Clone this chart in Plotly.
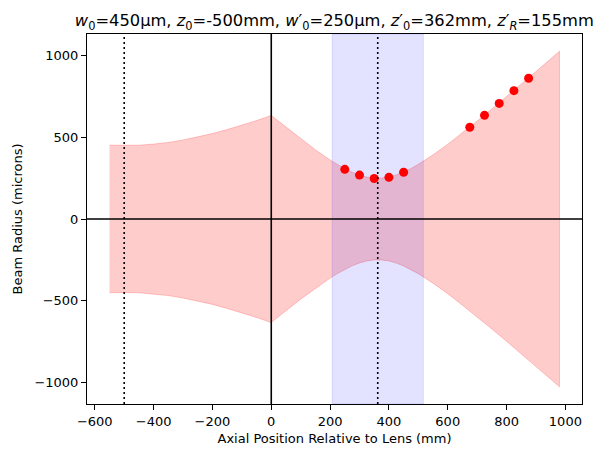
import plotly.graph_objects as go

# Beam envelope (z in mm, radius in microns)
z_env = [-550, -500, -450, -400, -350, -300, -250, -200, -150, -100, -50, 0,
         50, 100, 150, 200, 225, 250, 275, 300, 325, 350, 362, 375, 400, 425,
         450, 475, 500, 550, 600, 650, 700, 750, 800, 850, 900, 950, 980]
w_env = [452, 450, 452, 459, 469, 484, 502, 523, 548, 574, 603, 634,
         562, 491, 424, 362, 334, 308, 287, 269, 257, 251, 250, 251, 257, 270,
         288, 309, 335, 393, 458, 528, 600, 674, 749, 826, 903, 981, 1028]

# Measured beam radii
meas_z = [250, 300, 350, 400, 450, 675, 725, 775, 825, 875]
meas_w = [304, 269, 248, 255, 286, 562, 635, 708, 786, 862]

# Markers
z0_input = -500
z0_output = 362
zR_output = 155

x_ticks = [-600, -400, -200, 0, 200, 400, 600, 800, 1000]
y_ticks = [-1000, -500, 0, 500, 1000]
x_range = [-626.5, 1056.5]
y_range = [-1133, 1133]

poly_x = z_env + z_env[::-1]
poly_y = w_env + [-w for w in w_env[::-1]]

fig = go.Figure()
fig.add_trace(go.Scatter(
    x=poly_x, y=poly_y, mode="lines", fill="toself",
    fillcolor="rgba(255,0,0,0.2)",
    line=dict(color="rgba(255,0,0,0.2)", width=1),
    hoverinfo="skip", showlegend=False))

# Rayleigh range band (between the envelope and the measured points)
b0, b1 = z0_output - zR_output, z0_output + zR_output
fig.add_trace(go.Scatter(
    x=[b0, b1, b1, b0, b0], y=[y_range[0], y_range[0], y_range[1], y_range[1], y_range[0]],
    mode="lines", fill="toself", fillcolor="rgba(0,0,255,0.11)",
    line=dict(color="rgba(0,0,255,0.11)", width=1),
    hoverinfo="skip", showlegend=False))

fig.add_trace(go.Scatter(
    x=meas_z, y=meas_w, mode="markers",
    marker=dict(color="red", size=9, line=dict(width=0)),
    showlegend=False))

# waist positions
for zz in [z0_input, z0_output]:
    fig.add_shape(type="line", xref="x", yref="paper", x0=zz, x1=zz, y0=0, y1=1,
                  line=dict(color="black", width=1.6, dash="2px,3px"), layer="above")
# lens and axis lines
fig.add_shape(type="line", xref="x", yref="paper", x0=0, x1=0, y0=0, y1=1,
              line=dict(color="black", width=1.6), layer="above")
fig.add_shape(type="line", xref="paper", yref="y", x0=0, x1=1, y0=0, y1=0,
              line=dict(color="black", width=1.3), layer="above")

font = "DejaVu Sans"
axis_common = dict(showline=True, mirror=True, linecolor="black", linewidth=1,
                   ticks="outside", ticklen=5, tickcolor="black", tickwidth=1,
                   showgrid=False, zeroline=False,
                   tickfont=dict(family=font, size=13, color="black"))

fig.update_layout(
    width=604, height=457,
    margin=dict(l=87, r=22, t=34, b=53),
    plot_bgcolor="white", paper_bgcolor="white",
    font=dict(family=font, color="black"),
    title=dict(
        text=("<i>w</i><sub>0</sub>=450μm, <i>z</i><sub>0</sub>=-500mm, "
              "<i>w</i>′<sub>0</sub>=250μm, <i>z</i>′<sub>0</sub>=362mm, "
              "<i>z</i>′<sub><i>R</i></sub>=155mm"),
        x=0.5535, xanchor="center", y=0.955, yanchor="middle",
        font=dict(family=font, size=16.3, color="black")),
    xaxis=dict(range=x_range, tickvals=x_ticks,
               title=dict(text="Axial Position Relative to Lens (mm)",
                          font=dict(family=font, size=13), standoff=6),
               **axis_common),
    yaxis=dict(range=y_range, tickvals=y_ticks,
               title=dict(text="Beam Radius (microns)",
                          font=dict(family=font, size=13), standoff=8),
               **axis_common),
)

fig.write_html("out.html")
